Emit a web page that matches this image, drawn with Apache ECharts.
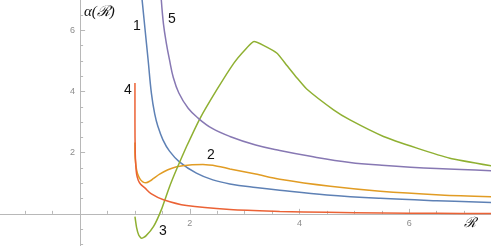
<!DOCTYPE html>
<html><head><meta charset="utf-8">
<script src="https://cdn.jsdelivr.net/npm/echarts@6/dist/echarts.min.js"></script>
<style>html,body{margin:0;padding:0;background:#fff}#c{width:491px;height:246px}</style>
</head><body><div id="c"></div>
<script>
// tick labels
const xMajorTicks = [2, 4, 6];
const yMajorTicks = [2, 4, 6];
const xMinorTicks = [-1, -0.5, 0.5, 1, 1.5, 2.5, 3, 3.5, 4.5, 5, 5.5, 6.5, 7];
const yMinorTicks = [-1, -0.5, 0.5, 1, 1.5, 2.5, 3, 3.5, 4.5, 5, 5.5, 6.5];
// curve labels
const curveNames = ['1', '2', '3', '4', '5'];
// curve 1 (blue)
const c1X = [1.13, 1.18, 1.24, 1.30, 1.36, 1.42, 1.51, 1.63, 1.81, 2.12, 2.42, 2.73, 3.2, 3.64, 4.5, 5.47, 6.5, 7.5];
const c1Y = [7.0, 6.1, 5.03, 3.94, 3.27, 2.85, 2.42, 2.05, 1.70, 1.33, 1.11, 0.98, 0.86, 0.77, 0.62, 0.51, 0.43, 0.37];
// curve 2 (orange)
const c2X = [1.0, 1.0, 1.01, 1.03, 1.06, 1.1, 1.15, 1.2, 1.27, 1.34, 1.45, 1.6, 1.76, 2.0, 2.24, 2.5, 2.73, 3.2, 3.64, 4.56, 5.47, 6.57, 7.5];
const c2Y = [2.33, 2.0, 1.7, 1.44, 1.25, 1.12, 1.04, 1.02, 1.07, 1.16, 1.3, 1.44, 1.54, 1.6, 1.61, 1.56, 1.47, 1.3, 1.13, 0.9, 0.74, 0.62, 0.56];
// curve 3 (green)
const c3X = [1.0, 1.03, 1.07, 1.12, 1.2, 1.34, 1.48, 1.63, 1.78, 1.94, 2.18, 2.49, 2.8, 3.0, 3.17, 3.35, 3.59, 3.77, 3.95, 4.13, 4.62, 4.92, 5.53, 6.14, 6.74, 7.5];
const c3Y = [-0.09, -0.45, -0.7, -0.8, -0.72, -0.41, 0.13, 0.89, 1.55, 2.2, 3.1, 4.05, 4.92, 5.35, 5.63, 5.5, 5.25, 4.85, 4.45, 4.08, 3.4, 3.07, 2.53, 2.15, 1.82, 1.57];
// curve 4 (red)
const c4X = [1.0, 1.0, 1.005, 1.015, 1.03, 1.06, 1.1, 1.18, 1.3, 1.52, 1.94, 2.73, 3.64, 4.5, 5.5, 6.5, 7.5];
const c4Y = [4.28, 3.0, 2.0, 1.6, 1.3, 1.1, 0.98, 0.85, 0.65, 0.46, 0.27, 0.14, 0.08, 0.05, 0.03, 0.02, 0.01];
// curve 5 (purple)
const c5X = [1.48, 1.52, 1.57, 1.63, 1.70, 1.80, 1.97, 2.15, 2.4, 2.73, 3.2, 3.64, 4.2, 4.92, 5.5, 6.5, 7.5];
const c5Y = [7.0, 6.2, 5.6, 5.03, 4.45, 3.95, 3.45, 3.13, 2.8, 2.53, 2.25, 2.07, 1.88, 1.68, 1.59, 1.48, 1.41];

const colors = ['#5E81B5', '#E19C24', '#8FB032', '#EB6235', '#8778B3'];
const smooths = [0.4, 0.3, 0.15, 0.3, 0.4];
const xs = [c1X, c2X, c3X, c4X, c5X];
const ys = [c1Y, c2Y, c3Y, c4Y, c5Y];
const zip = (a, b) => a.map((v, i) => [v, b[i]]);

const W = 491, H = 246;
const chart = echarts.init(document.getElementById('c'), null, {renderer: 'canvas', width: W, height: H});
const axisColor = '#b8b8b8';
const labelStyle = {color: '#8c8c8c', fontSize: 9, fontFamily: 'Liberation Sans, Arial, sans-serif'};
const XMIN = -1.46, XMAX = 7.49, YMIN = -1.05, YMAX = 6.99;

function xAxisDef(major, offset) {
  return {
    type: 'value', min: XMIN, max: XMAX, position: 'bottom', offset: offset,
    axisLine: {show: major, onZero: false, lineStyle: {color: axisColor, width: 1}},
    axisTick: {show: true, inside: true, length: major ? 5 : 3, customValues: major ? xMajorTicks : xMinorTicks, lineStyle: {color: axisColor}},
    axisLabel: {show: major, customValues: xMajorTicks, margin: 5, ...labelStyle},
    splitLine: {show: false}
  };
}
function yAxisDef(major, offset) {
  return {
    type: 'value', min: YMIN, max: YMAX, position: 'left', offset: offset,
    axisLine: {show: major, onZero: false, lineStyle: {color: axisColor, width: 1}},
    axisTick: {show: true, inside: true, length: major ? 5 : 3, customValues: major ? yMajorTicks : yMinorTicks, lineStyle: {color: axisColor}},
    axisLabel: {show: major, customValues: yMajorTicks, margin: 5, ...labelStyle},
    splitLine: {show: false}
  };
}

function build(xOff, yOff) {
  return {
    animation: false,
    grid: {left: 0, right: 0, top: 0, bottom: 0, containLabel: false, outerBoundsMode: 'none'},
    xAxis: [xAxisDef(true, xOff), xAxisDef(false, xOff)],
    yAxis: [yAxisDef(true, yOff), yAxisDef(false, yOff)],
    series: xs.map((x, i) => ({
      name: curveNames[i], type: 'line', data: zip(x, ys[i]), showSymbol: false,
      xAxisIndex: 0, yAxisIndex: 0, clip: true, smooth: smooths[i],
      lineStyle: {color: colors[i], width: 1.5}, itemStyle: {color: colors[i]}
    })),
    graphic: [
      {type: 'text', left: 84, top: 5, style: {text: 'α(ℛ)', font: 'italic 15px "Liberation Serif", serif', fill: '#111'}},
      {type: 'text', left: 464, top: 216, style: {text: 'ℛ', font: 'italic 14px "Liberation Serif", serif', fill: '#111'}},
      {type: 'text', left: 133, top: 19, style: {text: curveNames[0], font: '14px "Liberation Sans", Arial, sans-serif', fill: '#111'}},
      {type: 'text', left: 207, top: 148, style: {text: curveNames[1], font: '14px "Liberation Sans", Arial, sans-serif', fill: '#111'}},
      {type: 'text', left: 159, top: 224, style: {text: curveNames[2], font: '14px "Liberation Sans", Arial, sans-serif', fill: '#111'}},
      {type: 'text', left: 124, top: 83, style: {text: curveNames[3], font: '14px "Liberation Sans", Arial, sans-serif', fill: '#111'}},
      {type: 'text', left: 168, top: 12, style: {text: curveNames[4], font: '14px "Liberation Sans", Arial, sans-serif', fill: '#111'}}
    ]
  };
}

chart.setOption(build(0, 0));
// place the axes where the other axis's value is zero, using the library's own scales
const origin = chart.convertToPixel({xAxisIndex: 0, yAxisIndex: 0}, [0, 0]);
chart.setOption(build(-(H - origin[1]), -origin[0]), {notMerge: true});
</script></body></html>
